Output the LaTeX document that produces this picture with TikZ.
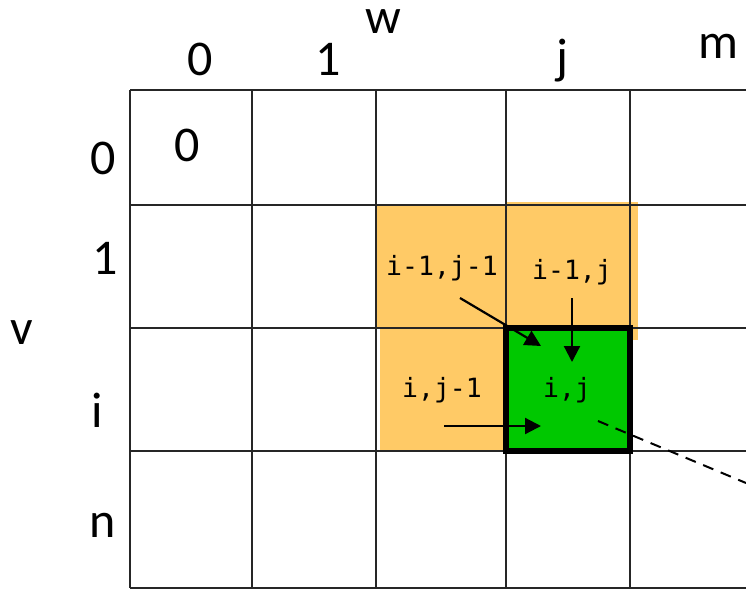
\documentclass[tikz,border=0pt]{standalone}
\usepackage{fontspec}
\setmainfont{Carlito}
\newfontfamily\cellmono{DejaVu Sans Mono}
\usetikzlibrary{arrows.meta}
\definecolor{dporange}{RGB}{255,202,102}
\definecolor{dpgreen}{RGB}{0,200,0}
\begin{document}
\begin{tikzpicture}[x=1pt, y=-1pt,
    gridline/.style={line width=2.4pt, color=black!85},
    idx/.style={font=\fontsize{50}{50}\selectfont, inner sep=0pt},
    cell_lbl/.style={font=\cellmono\fontsize{26.5}{26.5}\selectfont, inner sep=0pt},
    dep/.style={line width=2.2pt, -{Triangle[length=16pt,width=16pt]}}
]
\useasboundingbox (0,0) rectangle (746,590);

% filled cells
\fill[dporange] (376,205) rectangle (506,328);
\fill[dporange] (506,202) rectangle (638,340);
\fill[dporange] (380,328) rectangle (506,452);
\fill[dpgreen] (506,328) rectangle (630,451);

% grid
\foreach \x in {130,252,376,506,630}
    \draw[gridline] (\x,90) -- (\x,588);
\foreach \y in {90,205,328,451,588}
    \draw[gridline] (130,\y) -- (746,\y);
\draw[line width=5.5pt] (506,328) rectangle (630,451);

% indices
\node[idx] (w) at (383,22) {w};
\node[idx] (c0) at (200,59) {0};
\node[idx] (c1) at (328,59) {1};
\node[idx] (cj) at (562,61) {j};
\node[idx] (cm) at (718,46) {m};
\node[idx] (v) at (22,333) {v};
\node[idx] (r0) at (103,158) {0};
\node[idx] (r1) at (105,258) {1};
\node[idx] (ri) at (97,410) {i};
\node[idx] (rn) at (103,525) {n};
\node[idx] (init) at (187,145) {0};

% neighbour cells
\node[cell_lbl] (diag) at (442,268) {i-1,j-1};
\node[cell_lbl] (up) at (572,272) {i-1,j};
\node[cell_lbl] (left) at (442,390) {i,j-1};
\node[cell_lbl] (cur) at (567,390) {i,j};

\coordinate (diag_s) at (460,298);
\coordinate (diag_e) at (541,346);
\coordinate (up_s) at (572,298);
\coordinate (up_e) at (572,362);
\coordinate (left_s) at (444,426);
\coordinate (left_e) at (541,426);
\coordinate (trace) at (746,483);

\draw[dep] (diag_s) -- (diag_e);
\draw[dep] (up_s) -- (up_e);
\draw[dep] (left_s) -- (left_e);
\draw[line width=2pt, dash pattern=on 11pt off 8pt] (598,421) -- (trace);
\end{tikzpicture}
\end{document}
